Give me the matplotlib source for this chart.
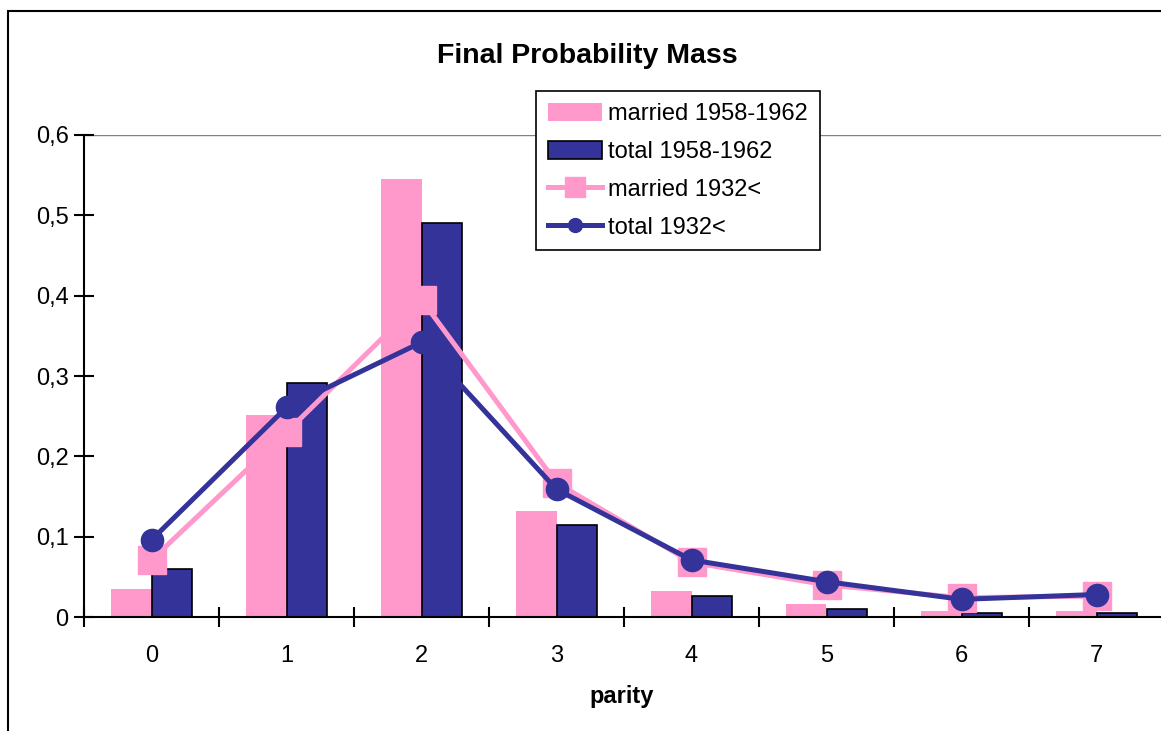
import numpy as np
import matplotlib
matplotlib.use('Agg')
import matplotlib.pyplot as plt
import matplotlib.patches as mpatch
from matplotlib.lines import Line2D
from matplotlib.ticker import FuncFormatter

plt.rcParams['font.family'] = ['Liberation Sans', 'DejaVu Sans']

parity = [0, 1, 2, 3, 4, 5, 6, 7]
married_5862 = [0.035, 0.251, 0.545, 0.132, 0.032, 0.016, 0.008, 0.008]
total_5862 = [0.060, 0.291, 0.490, 0.115, 0.026, 0.010, 0.005, 0.005]
married_1932 = [0.071, 0.230, 0.395, 0.167, 0.068, 0.040, 0.024, 0.026]
total_1932 = [0.096, 0.261, 0.342, 0.159, 0.071, 0.044, 0.022, 0.028]

pink = '#FF99CC'
blue = '#333399'
fs = 17

fig = plt.figure(figsize=(11.61, 7.31), dpi=100)
W, H = 1161.0, 731.0

# chart area border
fig.patches.append(mpatch.Rectangle((8 / W, -0.1), 1.2, 1 - 11 / H + 0.1,
                                    transform=fig.transFigure, fill=False,
                                    edgecolor='black', lw=1.5))

ax = fig.add_axes([84 / W, 1 - 617 / H, 1080 / W, 482 / H])
x = np.array(parity)
bw = 0.3
ax.bar(x - bw / 2, married_5862, width=bw, color=pink, edgecolor='none', zorder=2)
ax.bar(x + bw / 2, total_5862, width=bw, color=blue, edgecolor='black', lw=1.2, zorder=2)
ax.plot(x, married_1932, color=pink, lw=3.6, marker='s', ms=20, mec=pink, zorder=3)
ax.plot(x, total_1932, color=blue, lw=3.6, marker='o', ms=16, mec=blue, zorder=4)

ax.set_xlim(-0.5, 7.5)
ax.set_ylim(0, 0.6)
ax.axhline(0.6, color='#808080', lw=1, zorder=1)
for s in ['top', 'right']:
    ax.spines[s].set_visible(False)
for s in ['left', 'bottom']:
    ax.spines[s].set_linewidth(1.5)
ax.set_yticks(np.arange(0, 0.61, 0.1))
ax.yaxis.set_major_formatter(FuncFormatter(
    lambda v, p: '0' if abs(v) < 1e-9 else ('%.1f' % v).replace('.', ',')))
ax.tick_params(axis='y', direction='inout', length=14, width=1.5, labelsize=fs, pad=4)
ax.set_xticks(x)
ax.set_xticklabels([str(p) for p in parity])
ax.set_xticks(np.arange(-0.5, 7.6, 1), minor=True)
ax.tick_params(axis='x', which='major', length=0, labelsize=fs, pad=20)
ax.tick_params(axis='x', which='minor', direction='inout', length=14, width=1.5)
ax.set_xlabel('parity', fontsize=fs, fontweight='bold')
ax.xaxis.set_label_coords((622 - 84) / 1080, -(697 - 617) / 482)
ax.xaxis.label.set_va('center')

fig.text(587 / W, 1 - 56 / H, 'Final Probability Mass', ha='center', va='center',
         fontsize=20.5, fontweight='bold')

handles = [mpatch.Patch(facecolor=pink, edgecolor='none'),
           mpatch.Patch(facecolor=blue, edgecolor='black', lw=1.2),
           Line2D([], [], color=pink, lw=3.6, marker='s', ms=14),
           Line2D([], [], color=blue, lw=3.6, marker='o', ms=10)]
labels = ['married 1958-1962', 'total 1958-1962', 'married 1932<', 'total 1932<']
leg = fig.legend(handles, labels, loc='upper left',
                 bbox_to_anchor=(536 / W, 1 - 91 / H), fontsize=fs,
                 frameon=True, fancybox=False, edgecolor='black', framealpha=1,
                 handlelength=2.3, handleheight=0.8, handletextpad=0.25,
                 labelspacing=0.66, borderpad=0.5, borderaxespad=0)
leg.get_frame().set_linewidth(1.2)

fig.savefig('out.png', dpi=100)
